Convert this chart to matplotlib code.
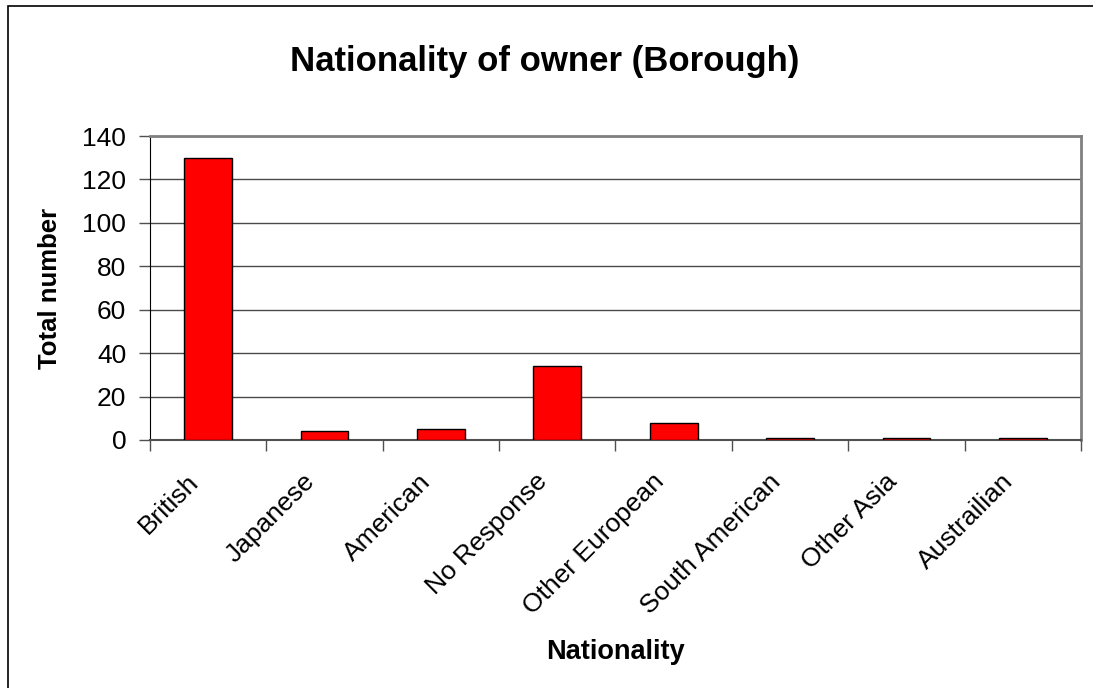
import matplotlib
matplotlib.use("Agg")
import matplotlib.pyplot as plt
import matplotlib.transforms as mtransforms
from matplotlib.patches import Rectangle

# Data
nationalities = ["British", "Japanese", "American", "No Response",
                 "Other European", "South American", "Other Asia", "Austrailian"]
totals = [130, 4, 5, 34, 8, 1, 1, 1]
y_ticks = [0, 20, 40, 60, 80, 100, 120, 140]

plt.rcParams['font.family'] = ['Liberation Sans', 'DejaVu Sans']

fig = plt.figure(figsize=(10.93, 6.88), dpi=100)
ax = fig.add_axes([0.1372, 0.3605, 0.8518, 0.4418])

x = range(len(nationalities))
ax.bar(x, totals, width=0.41, color='#ff0000', edgecolor='black', linewidth=1, zorder=3)

ax.set_xlim(-0.5, len(nationalities) - 0.5)
ax.set_ylim(0, 140)
ax.set_yticks(y_ticks)
ax.set_yticklabels([str(v) for v in y_ticks], fontsize=19)
ax.yaxis.grid(True, color='#4a4a4a', linewidth=1, zorder=0)
ax.tick_params(axis='y', length=8, width=1, color='#505050', pad=9)

# category labels centred, tick marks between categories
ax.set_xticks(list(x))
ax.set_xticklabels(nationalities, fontsize=19, rotation=45, ha='right',
                   rotation_mode='anchor')
ax.tick_params(axis='x', which='major', length=0, pad=14)
shift = mtransforms.ScaledTranslation(-0.22, -0.10, fig.dpi_scale_trans)
for lbl in ax.get_xticklabels():
    lbl.set_transform(lbl.get_transform() + shift)
ax.set_xticks([i - 0.5 for i in range(len(nationalities) + 1)], minor=True)
ax.tick_params(axis='x', which='minor', length=8, width=1, color='#505050')

for side in ['top', 'right']:
    ax.spines[side].set_color('#808080')
    ax.spines[side].set_linewidth(2)
ax.spines['left'].set_color('black')
ax.spines['bottom'].set_color('#505050')
ax.spines['bottom'].set_linewidth(1.5)

ax.set_ylabel('Total number', fontsize=18.5, fontweight='bold')
ax.yaxis.set_label_coords(-0.095, 0.5)
ax.set_xlabel('Nationality', fontsize=19.5, fontweight='bold')
ax.xaxis.set_label_coords(0.5, -0.655)

fig.text(0.498, 0.91, 'Nationality of owner (Borough)', fontsize=25,
         fontweight='bold', ha='center', va='center')

# outer chart frame (right and bottom edges fall outside the image)
fig.patches.append(Rectangle((8 / 1093, -0.1), 1.2, 1.1 - 6 / 688,
                             transform=fig.transFigure, fill=False,
                             edgecolor='black', linewidth=1.2))

fig.savefig('out.png', dpi=100)
